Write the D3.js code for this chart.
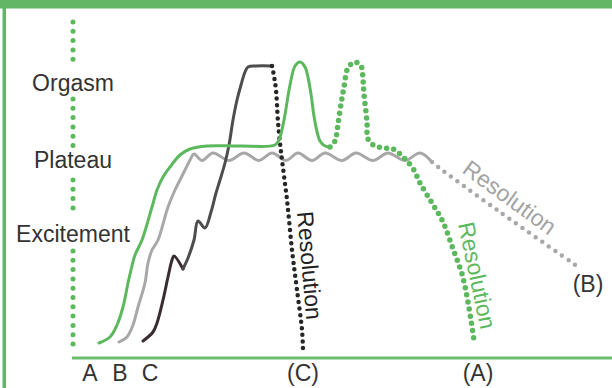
<!DOCTYPE html>
<html>
<head>
<meta charset="utf-8">
<script src="https://cdn.jsdelivr.net/npm/d3@7"></script>
<style>
    body { margin: 0; background: #fff; }
    svg { display: block; }
    text { font-family: "Liberation Sans", Arial, sans-serif; }
</style>
</head>
<body>
<div id="chart"></div>
<script>

/* * * * * * * * * * * * * * *
*     Response cycle data     *
* * * * * * * * * * * * * * */

// stage names on the left, and where the dotted axis breaks for them
let stages = ["Orgasm", "Plateau", "Excitement"];
let stageLevels = [271, 194, 120];
let axisSegments = [[336, 290], [259, 212], [178, 141], [107, 5]];

// start letters and end labels of the three curves
let startNames = ["A", "B", "C"];
let startTimes = [18, 48, 78];
let endNames = ["(A)", "(B)", "(C)"];
let resolutionText = "Resolution";

// pattern A : [time, arousal]
let curveA = [[27, 15], [38, 21], [45, 33], [51, 51], [56, 75], [59, 88], [63, 103], [70, 118],
    [80, 151], [85, 168], [91, 181], [98, 191], [108, 203], [118, 209], [135, 212], [168, 212],
    [203, 213], [207, 218], [212, 238], [218, 273], [223, 292], [228, 296], [233, 291],
    [238, 270], [243, 236], [248, 217], [253, 212], [258, 211]];
let curveAResolution = [[258, 211], [263, 217], [266, 234], [269, 254], [272, 271], [276, 290],
    [283, 296], [289, 292], [291, 278], [292, 264], [295, 236], [296, 219], [303, 212], [313, 210],
    [321, 209], [328, 204], [335, 197], [342, 188], [348, 175], [360, 155], [371, 136],
    [381, 109], [390, 84], [396, 56], [402, 18]];

// pattern B : rise then wavy plateau
let curveB = [[47, 16], [55, 21], [61, 33], [66, 51], [73, 75], [76, 95], [80, 108], [86, 118],
    [96, 151], [103, 168], [108, 178], [113, 188], [118, 198], [122, 204], [130, 197.5],
    [141, 205], [157, 197.5], [172, 205], [187, 197.5], [200, 205], [214, 197.5], [226, 205],
    [240, 197.5], [253, 205], [270, 197.5], [284, 205], [301, 197.5], [316, 205], [333, 197.5],
    [348, 205], [360, 196]];
let curveBResolution = [[360, 196], [366, 191], [428, 146], [509, 89]];

// pattern C : broken rise straight to orgasm
let curveCStart = [[71, 17], [81, 26], [85, 35], [91, 58], [96, 81], [100, 98], [102, 102], [111, 89]];
let curveC = [[111, 89], [116, 100], [122, 118], [126, 137], [133, 130], [139, 146], [144, 165],
    [148, 178], [153, 195], [157, 213], [161, 238], [165, 258], [169, 273], [173, 286],
    [176, 291], [184, 292], [200, 292]];
let curveCResolution = [[200, 292], [202, 282], [204, 268], [206, 236], [208, 215], [210, 198],
    [215, 158], [220, 108], [225, 68], [230, 28], [231, 8]];

/* * * * * * * * * * * * * * *
*          Drawing            *
* * * * * * * * * * * * * * */

let width = 612;
let height = 388;

let green = "#5cb85c";
let frameGreen = "#62b665";
let grey = "#a8a8a8";
let dark = "#4d4d4d";
let textColor = "#333";

let svg = d3.select("#chart")
    .append("svg")
    .attr("width", width)
    .attr("height", height);

// time runs to the right from the origin, arousal goes up
let xScale = d3.scaleLinear()
    .domain([0, 540])
    .range([72, 612]);

let yScale = d3.scaleLinear()
    .domain([0, 340])
    .range([358, 18]);

let line = d3.line()
    .x(d => xScale(d[0]))
    .y(d => yScale(d[1]))
    .curve(d3.curveCatmullRom.alpha(0.5));

// green frame (top and left)
svg.append("rect")
    .attr("x", 0).attr("y", 0)
    .attr("width", width).attr("height", 8.5)
    .attr("fill", frameGreen);

svg.append("rect")
    .attr("x", 2.5).attr("y", 0)
    .attr("width", 3.5).attr("height", height)
    .attr("fill", frameGreen);

// x axis line
svg.append("line")
    .attr("x1", xScale(0)).attr("x2", xScale(540))
    .attr("y1", yScale(0)).attr("y2", yScale(0))
    .attr("stroke", "#6cbd6c")
    .attr("stroke-width", 3);

// dotted vertical axis, broken for the stage names
svg.selectAll(".axis-dots")
    .data(axisSegments)
    .enter()
    .append("line")
    .attr("class", "axis-dots")
    .attr("x1", xScale(1)).attr("x2", xScale(1))
    .attr("y1", d => yScale(d[0]))
    .attr("y2", d => yScale(d[1]))
    .attr("stroke", green)
    .attr("stroke-width", 5)
    .attr("stroke-linecap", "round")
    .attr("stroke-dasharray", "0,9.3");

svg.selectAll(".stage")
    .data(stages)
    .enter()
    .append("text")
    .attr("class", "stage")
    .attr("x", xScale(1))
    .attr("y", (d, i) => yScale(stageLevels[i]) + 4)
    .attr("text-anchor", "middle")
    .attr("font-size", 23)
    .attr("fill", textColor)
    .text(d => d);

// start letters below the axis
svg.selectAll(".start")
    .data(startNames)
    .enter()
    .append("text")
    .attr("class", "start")
    .attr("x", (d, i) => xScale(startTimes[i]))
    .attr("y", 381)
    .attr("text-anchor", "middle")
    .attr("font-size", 23)
    .attr("fill", textColor)
    .text(d => d);

// solid paths
function solid(data, color, w) {
    svg.append("path")
        .datum(data)
        .attr("d", line)
        .attr("fill", "none")
        .attr("stroke", color)
        .attr("stroke-width", w)
        .attr("stroke-linejoin", "round")
        .attr("stroke-linecap", "round");
}

// dotted paths
function dotted(data, color, w, gap) {
    svg.append("path")
        .datum(data)
        .attr("d", line)
        .attr("fill", "none")
        .attr("stroke", color)
        .attr("stroke-width", w)
        .attr("stroke-linecap", "round")
        .attr("stroke-dasharray", "0," + gap);
}

solid(curveB, grey, 3);
dotted(curveBResolution, grey, 4.5, 8);

solid(curveCStart, "#3a2c30", 3);
solid(curveC, dark, 3);
dotted(curveCResolution, "#262626", 4.5, 6.6);

solid(curveA, green, 3);
dotted(curveAResolution, green, 5.5, 7.2);

// resolution labels along the dotted tails
function resolutionLabel(t, level, angle, color) {
    svg.append("text")
        .attr("transform", "translate(" + xScale(t) + "," + yScale(level) + ") rotate(" + angle + ")")
        .attr("font-size", 23)
        .attr("fill", color)
        .text(resolutionText);
}

resolutionLabel(225, 146, 85, "#222");
resolutionLabel(386, 134, 78, green);
resolutionLabel(389, 186, 36, "#a3a3a3");

// end labels of the curves
svg.append("text")
    .attr("x", xScale(231)).attr("y", 381)
    .attr("text-anchor", "middle")
    .attr("font-size", 23).attr("fill", textColor)
    .text(endNames[2]);

svg.append("text")
    .attr("x", xScale(406)).attr("y", 381)
    .attr("text-anchor", "middle")
    .attr("font-size", 23).attr("fill", textColor)
    .text(endNames[0]);

svg.append("text")
    .attr("x", xScale(516)).attr("y", 292)
    .attr("text-anchor", "middle")
    .attr("font-size", 23).attr("fill", textColor)
    .text(endNames[1]);

</script>
</body>
</html>
